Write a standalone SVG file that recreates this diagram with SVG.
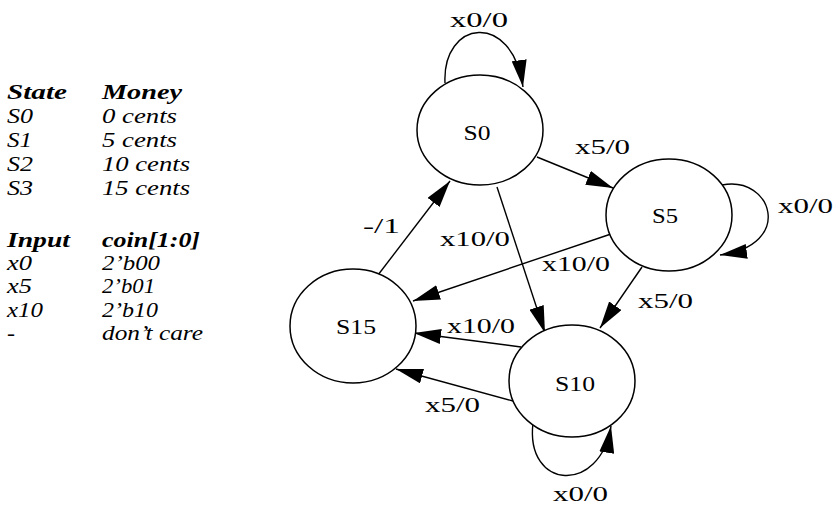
<svg xmlns="http://www.w3.org/2000/svg" width="836" height="506" viewBox="0 0 836 506">
<style>
.tb{font-family:"Liberation Serif",serif;font-size:22px;font-style:italic;fill:#000}
.tb.h{font-weight:bold}
.node ellipse{fill:#fff;stroke:#000;stroke-width:1.5}
.nl{font-family:"Liberation Serif",serif;font-size:22px;fill:#000;text-anchor:middle}
.el{font-family:"Liberation Serif",serif;font-size:21px;fill:#000}
.edge{fill:none;stroke:#000;stroke-width:1.4}
</style>
<defs>
<marker id="arr" markerUnits="userSpaceOnUse" viewBox="0 0 27 15" markerWidth="27" markerHeight="15" refX="27" refY="7.5" orient="auto">
<path d="M0,0 L27,7.5 L0,15 Z" fill="#000"/>
</marker>
</defs>
<g id="table">
<text class="tb h" x="7" y="99" textLength="60" lengthAdjust="spacingAndGlyphs">State</text>
<text class="tb h" x="102" y="99" textLength="80" lengthAdjust="spacingAndGlyphs">Money</text>
<text class="tb" x="7" y="123" textLength="26" lengthAdjust="spacingAndGlyphs">S0</text>
<text class="tb" x="102" y="123" textLength="75" lengthAdjust="spacingAndGlyphs">0 cents</text>
<text class="tb" x="7" y="147" textLength="25" lengthAdjust="spacingAndGlyphs">S1</text>
<text class="tb" x="102" y="147" textLength="75" lengthAdjust="spacingAndGlyphs">5 cents</text>
<text class="tb" x="7" y="171" textLength="26" lengthAdjust="spacingAndGlyphs">S2</text>
<text class="tb" x="102" y="171" textLength="88" lengthAdjust="spacingAndGlyphs">10 cents</text>
<text class="tb" x="7" y="195" textLength="26" lengthAdjust="spacingAndGlyphs">S3</text>
<text class="tb" x="102" y="195" textLength="88" lengthAdjust="spacingAndGlyphs">15 cents</text>
<text class="tb h" x="7" y="247" textLength="63" lengthAdjust="spacingAndGlyphs">Input</text>
<text class="tb h" x="102" y="247" textLength="98" lengthAdjust="spacingAndGlyphs">coin[1:0]</text>
<text class="tb" x="7" y="270" textLength="25" lengthAdjust="spacingAndGlyphs">x0</text>
<text class="tb" x="102" y="270" textLength="58" lengthAdjust="spacingAndGlyphs">2’b00</text>
<text class="tb" x="7" y="293" textLength="25" lengthAdjust="spacingAndGlyphs">x5</text>
<text class="tb" x="102" y="293" textLength="53" lengthAdjust="spacingAndGlyphs">2’b01</text>
<text class="tb" x="7" y="317" textLength="36" lengthAdjust="spacingAndGlyphs">x10</text>
<text class="tb" x="102" y="317" textLength="56" lengthAdjust="spacingAndGlyphs">2’b10</text>
<text class="tb" x="7" y="340" textLength="8" lengthAdjust="spacingAndGlyphs">-</text>
<text class="tb" x="102" y="340" textLength="101" lengthAdjust="spacingAndGlyphs">don’t care</text>
</g>
<g id="connectors">
<path class="edge" marker-end="url(#arr)" d="M445,83 C442,20 512,10 523,87"/>
<path class="edge" marker-end="url(#arr)" d="M537,157 L613,188"/>
<path class="edge" marker-end="url(#arr)" d="M722,185 C772,175 795,245 720,255"/>
<path class="edge" marker-end="url(#arr)" d="M611,234 L413,301"/>
<path class="edge" marker-end="url(#arr)" d="M497,187 L545,333"/>
<path class="edge" marker-end="url(#arr)" d="M642,267 L600,328"/>
<path class="edge" marker-end="url(#arr)" d="M521,347 L414,333"/>
<path class="edge" marker-end="url(#arr)" d="M513,401 L396,369"/>
<path class="edge" marker-end="url(#arr)" d="M378,275 L450,181"/>
<path class="edge" marker-end="url(#arr)" d="M533,423 C525,490 600,495 611,426"/>
<text class="el" x="450" y="27" textLength="58" lengthAdjust="spacingAndGlyphs">x0/0</text>
<text class="el" x="575" y="154" textLength="55" lengthAdjust="spacingAndGlyphs">x5/0</text>
<text class="el" x="778" y="213" textLength="55" lengthAdjust="spacingAndGlyphs">x0/0</text>
<text class="el" x="542" y="271" textLength="68" lengthAdjust="spacingAndGlyphs">x10/0</text>
<text class="el" x="440" y="246" textLength="70" lengthAdjust="spacingAndGlyphs">x10/0</text>
<text class="el" x="638" y="308" textLength="55" lengthAdjust="spacingAndGlyphs">x5/0</text>
<text class="el" x="447" y="333" textLength="68" lengthAdjust="spacingAndGlyphs">x10/0</text>
<text class="el" x="425" y="412" textLength="55" lengthAdjust="spacingAndGlyphs">x5/0</text>
<text class="el" x="363" y="233" textLength="37" lengthAdjust="spacingAndGlyphs">-/1</text>
<text class="el" x="553" y="501" textLength="55" lengthAdjust="spacingAndGlyphs">x0/0</text>
</g>
<g id="S0" class="node">
<ellipse cx="480" cy="130" rx="63" ry="55"/>
<text class="nl" x="477" y="140" textLength="27" lengthAdjust="spacingAndGlyphs">S0</text>
</g>
<g id="S5" class="node">
<ellipse cx="669" cy="215" rx="63" ry="56"/>
<text class="nl" x="665" y="223" textLength="26" lengthAdjust="spacingAndGlyphs">S5</text>
</g>
<g id="S15" class="node">
<ellipse cx="353" cy="326" rx="63" ry="57"/>
<text class="nl" x="356" y="334" textLength="40" lengthAdjust="spacingAndGlyphs">S15</text>
</g>
<g id="S10" class="node">
<ellipse cx="572" cy="381" rx="63" ry="56"/>
<text class="nl" x="575" y="391" textLength="40" lengthAdjust="spacingAndGlyphs">S10</text>
</g>
</svg>
